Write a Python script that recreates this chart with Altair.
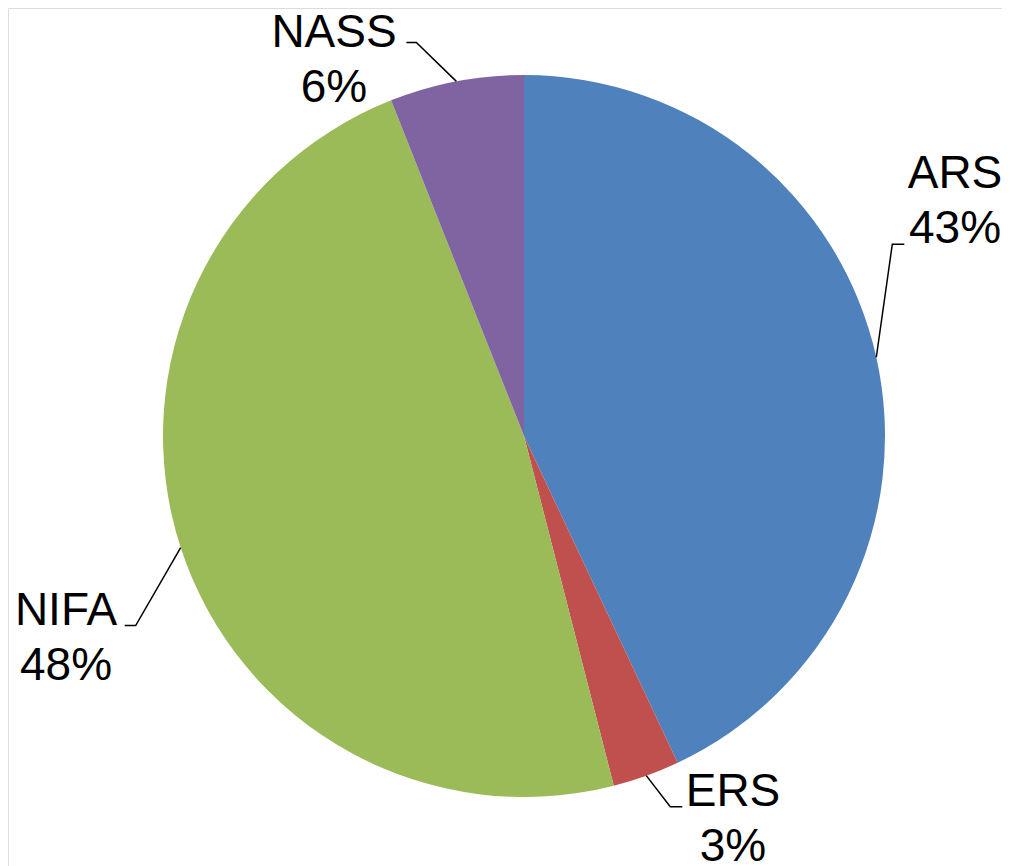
import math
import altair as alt
import pandas as pd

# ---- data ----
names = ["ARS", "ERS", "NIFA", "NASS"]
values = [43, 3, 48, 6]
colors = ["#4F81BD", "#C0504D", "#9BBB59", "#8064A2"]

# ---- layout (pixels in chart space) ----
CX, CY, R = 516, 428, 361
FONT = "Liberation Sans"
FS = 46
LINE_GAP = 55
# leader elbow offset from the slice edge point, then short horizontal tail
elbow = {"ARS": (16, -113), "ERS": (24, 31), "NIFA": (-45, 78), "NASS": (-40, -39)}
tail = {"ARS": 12, "ERS": 12, "NIFA": -11, "NASS": -10}
# label centre x and first-line baseline y
label_pos = {"ARS": (947, 180), "ERS": (725, 798), "NIFA": (58, 617), "NASS": (326, 39)}

total = sum(values)
pie_df = pd.DataFrame({"name": names, "value": values, "idx": range(len(names))})

# leader lines derived from slice mid-angles
rows = []
lab_rows = []
cum = 0
for n, v in zip(names, values):
    mid = (cum + v / 2) / total * 2 * math.pi
    cum += v
    sx = CX + R * math.sin(mid)
    sy = CY - R * math.cos(mid)
    ex, ey = sx + elbow[n][0], sy + elbow[n][1]
    tx = ex + tail[n]
    rows += [
        {"name": n, "o": 0, "x": sx, "y": sy},
        {"name": n, "o": 1, "x": ex, "y": ey},
        {"name": n, "o": 2, "x": tx, "y": ey},
    ]
    lx, ly = label_pos[n]
    pct = f"{round(v / total * 100)}%"
    lab_rows.append({"name": n, "pct": pct, "x": lx, "y": ly, "y2": ly + LINE_GAP})
lines_df = pd.DataFrame(rows)
lab_df = pd.DataFrame(lab_rows)

pie = alt.Chart(pie_df).mark_arc(radius=R).encode(
    theta=alt.Theta("value:Q", stack=True),
    order=alt.Order("idx:Q"),
    color=alt.Color("name:N", scale=alt.Scale(domain=names, range=colors), legend=None),
    x=alt.value(CX),
    y=alt.value(CY),
)

leaders = alt.Chart(lines_df).mark_line(color="black", strokeWidth=1.5).encode(
    x=alt.X("x:Q", scale=None),
    y=alt.Y("y:Q", scale=None),
    detail="name:N",
    order="o:Q",
)

txt1 = alt.Chart(lab_df).mark_text(
    font=FONT, fontSize=FS, align="center", baseline="alphabetic", color="black"
).encode(x=alt.X("x:Q", scale=None), y=alt.Y("y:Q", scale=None), text="name:N")

txt2 = alt.Chart(lab_df).mark_text(
    font=FONT, fontSize=FS, align="center", baseline="alphabetic", color="black"
).encode(x=alt.X("x:Q", scale=None), y=alt.Y("y2:Q", scale=None), text="pct:N")

chart = (
    alt.layer(pie, leaders, txt1, txt2)
    .properties(width=994, height=858, autosize=alt.AutoSizeParams(type="none"), padding=0)
    .configure_view(strokeWidth=0, stroke="transparent")
    .configure(background="transparent")
)

chart.save("out.html", embed_options={"renderer": "svg", "actions": False})
